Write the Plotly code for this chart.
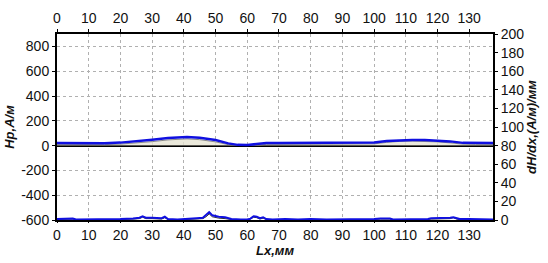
import plotly.graph_objects as go

# Hp (A/m), left axis
hp_x = [0, 5, 10, 15, 20, 25, 30, 35, 38, 41, 45, 50, 54, 57, 60, 63, 66, 70, 80, 90, 100, 104, 108, 112, 116, 120, 124, 128, 132, 137.5]
hp_y = [20, 18, 15, 18, 24, 34, 48, 62, 68, 70, 64, 45, 18, 6, 5, 10, 20, 20, 22, 22, 25, 38, 45, 46, 45, 42, 34, 22, 20, 20]
# underlying grey trace (A/m)
hg_y = [10, 8, 6, 8, 12, 20, 32, 46, 52, 54, 48, 30, 8, 2, 2, 4, 10, 10, 12, 12, 14, 26, 34, 36, 34, 30, 22, 12, 10, 10]

# dH/dx, (A/m)/mm, right axis
dh_x = [0, 2, 3, 5, 6, 10, 15, 20, 24, 26, 27, 28, 30, 33, 34, 35, 38, 42, 44, 46, 47, 48, 49, 51, 53, 55, 58, 60, 61, 62, 63, 64, 65, 66, 68, 72, 76, 80, 85, 90, 95, 100, 102, 105, 106, 110, 115, 117, 118, 121, 123, 124, 125, 126, 127, 130, 135, 137.5]
dh_y = [1, 1, 1.5, 1.5, 0.5, 0.5, 0.5, 1, 1.5, 2.5, 4, 2.5, 2.5, 2, 3.5, 1, 0.5, 1, 2, 2.5, 5, 8.5, 5, 3.5, 3, 1, 0.5, 0.5, 1.5, 4, 3.5, 2, 3, 1, 0.5, 1, 0.5, 1, 0.5, 0.5, 0.5, 1, 1.5, 1.5, 0.5, 0.5, 0.5, 1, 2, 2, 2, 2.5, 3, 2, 1, 1, 0.5, 0.5]
dk_y = [0.5, 0.5, 1, 1, 0, 0, 0, 0.5, 1, 1.5, 3, 1.5, 1.5, 1, 2.5, 0.5, 0, 0.5, 1, 1.5, 3.5, 6.5, 3.5, 2, 1.5, 0.5, 0, 0, 1, 3, 2.5, 1, 2, 0.5, 0, 0.5, 0, 0.5, 0, 0, 0, 0.5, 1, 1, 0, 0, 0, 0.5, 1, 1, 1, 1.5, 2.5, 1, 0.5, 0.5, 0, 0]

x_ticks = list(range(0, 131, 10))
yl_ticks = list(range(-600, 801, 200))
yl_labels = [str(v) for v in yl_ticks]
yr_ticks = list(range(0, 201, 20))

FONT = "Liberation Sans, Arial, sans-serif"

fig = go.Figure()
fig.add_trace(go.Scatter(x=hp_x, y=hg_y, mode="lines", line=dict(color="#8a8a8a", width=1),
                         fill="tozeroy", fillcolor="rgba(230,228,210,0.8)", xaxis="x", yaxis="y", showlegend=False))
fig.add_trace(go.Scatter(x=hp_x, y=hp_y, mode="lines", line=dict(color="#1010e0", width=2.5),
                         xaxis="x", yaxis="y", showlegend=False))
fig.add_trace(go.Scatter(x=dh_x, y=dk_y, mode="lines", line=dict(color="#303030", width=1),
                         xaxis="x", yaxis="y2", showlegend=False))
fig.add_trace(go.Scatter(x=dh_x, y=dh_y, mode="lines", line=dict(color="#1010e0", width=2),
                         xaxis="x", yaxis="y2", showlegend=False))
fig.add_trace(go.Scatter(x=[0], y=[None], xaxis="x2", yaxis="y", showlegend=False, hoverinfo="skip"))

axis_common = dict(showline=True, linecolor="black", linewidth=2, ticks="outside",
                   tickcolor="black", automargin=False,
                   tickfont=dict(family=FONT, size=14, color="#111"))
title_font = dict(family=FONT, size=13, color="#111")

fig.update_layout(
    width=548, height=263,
    margin=dict(l=57, r=55, t=34, b=43),
    paper_bgcolor="white", plot_bgcolor="white",
    xaxis=dict(range=[0, 137.5], tickvals=x_ticks, showgrid=True, gridcolor="#b0b0b0", griddash="dot",
               gridwidth=1, zeroline=False, ticklen=1,
               title=dict(text="<b><i>Lx,мм</i></b>", font=title_font, standoff=0),
               **axis_common),
    xaxis2=dict(range=[0, 137.5], tickvals=x_ticks, overlaying="x", side="top", showgrid=False,
                zeroline=False, ticklen=3, **axis_common),
    yaxis=dict(range=[-600, 900], tickvals=yl_ticks, ticktext=yl_labels, showgrid=True, gridcolor="#b0b0b0",
               griddash="dot", gridwidth=1, zeroline=True, zerolinecolor="black", zerolinewidth=2, ticklen=3,
               title=dict(text="<b><i>Hp,A/м</i></b>", font=title_font, standoff=4),
               **axis_common),
    yaxis2=dict(range=[0, 200], tickvals=yr_ticks, overlaying="y", side="right", showgrid=False,
                zeroline=False, ticklen=3,
                title=dict(text="<b><i>dH/dx,(A/м)/мм</i></b>", font=title_font, standoff=2),
                **axis_common),
)

fig.write_html("out.html")
